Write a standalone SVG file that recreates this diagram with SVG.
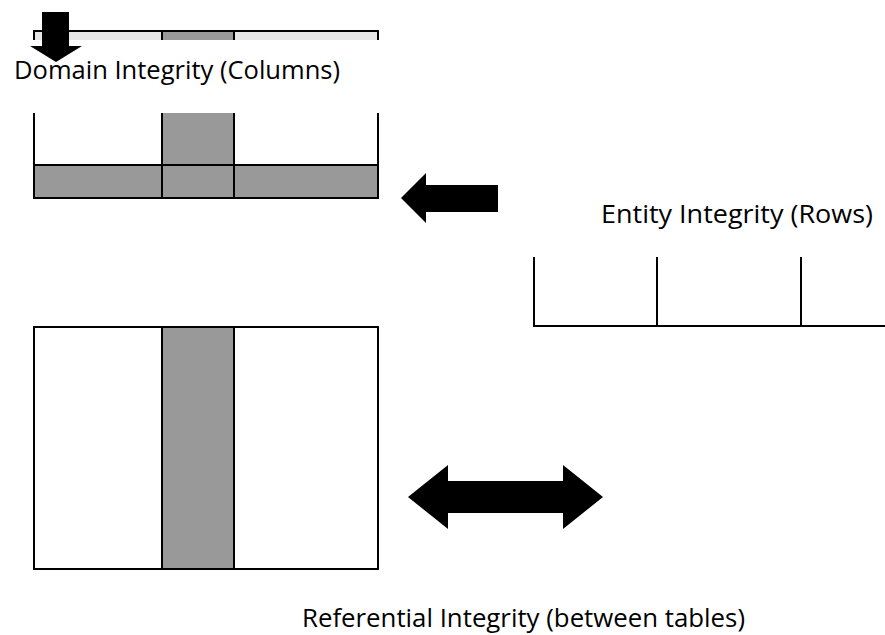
<svg xmlns="http://www.w3.org/2000/svg" width="885" height="635" viewBox="0 0 885 635">
<style>
.ln{stroke:#000;stroke-width:2;fill:none}
.dk{fill:#999999}
.lt{fill:#e6e6e6}
.arr{fill:#000}
.lbl{font-family:"Open Sans","Liberation Sans",sans-serif;font-size:25px;fill:#000}
</style>
<rect width="885" height="635" fill="#fff"/>
<g id="domain-table">
<rect class="lt" x="34" y="31" width="344" height="9"/>
<rect class="dk" x="162" y="31" width="72" height="9"/>
<rect class="dk" x="162" y="113" width="72" height="52"/>
<rect class="dk" x="34" y="165" width="344" height="33"/>
<line class="ln" x1="34" y1="31" x2="378" y2="31"/>
<line class="ln" x1="34" y1="30" x2="34" y2="40"/>
<line class="ln" x1="162" y1="30" x2="162" y2="40"/>
<line class="ln" x1="234" y1="30" x2="234" y2="40"/>
<line class="ln" x1="378" y1="30" x2="378" y2="40"/>
<line class="ln" x1="34" y1="113" x2="34" y2="199"/>
<line class="ln" x1="162" y1="113" x2="162" y2="199"/>
<line class="ln" x1="234" y1="113" x2="234" y2="199"/>
<line class="ln" x1="378" y1="113" x2="378" y2="199"/>
<line class="ln" x1="33" y1="165" x2="379" y2="165"/>
<line class="ln" x1="33" y1="198" x2="379" y2="198"/>
</g>
<g id="domain-label">
<text class="lbl" x="14" y="79" textLength="326" lengthAdjust="spacingAndGlyphs">Domain Integrity (Columns)</text>
</g>
<g id="entity-table">
<line class="ln" x1="534" y1="257" x2="534" y2="326"/>
<line class="ln" x1="657" y1="257" x2="657" y2="326"/>
<line class="ln" x1="801" y1="257" x2="801" y2="326"/>
<line class="ln" x1="533" y1="326" x2="885" y2="326"/>
</g>
<g id="entity-label">
<text class="lbl" x="601" y="223" textLength="272" lengthAdjust="spacingAndGlyphs">Entity Integrity (Rows)</text>
</g>
<g id="referential-table">
<rect class="dk" x="162" y="327" width="72" height="242"/>
<rect class="ln" x="34" y="327" width="344" height="242"/>
<line class="ln" x1="162" y1="327" x2="162" y2="569"/>
<line class="ln" x1="234" y1="327" x2="234" y2="569"/>
</g>
<g id="referential-label">
<text class="lbl" x="302" y="627" textLength="443" lengthAdjust="spacingAndGlyphs">Referential Integrity (between tables)</text>
</g>
<g id="connectors">
<polygon class="arr" points="42,12 69,12 69,46 82,46 56,62 30,46 42,46"/>
<polygon class="arr" points="498,185 498,212 426,212 426,223 401,198 426,173 426,185"/>
<polygon class="arr" points="408,497 448,465 448,481 563,481 563,465 603,497 563,529 563,513 448,513 448,529"/>
</g>
</svg>
